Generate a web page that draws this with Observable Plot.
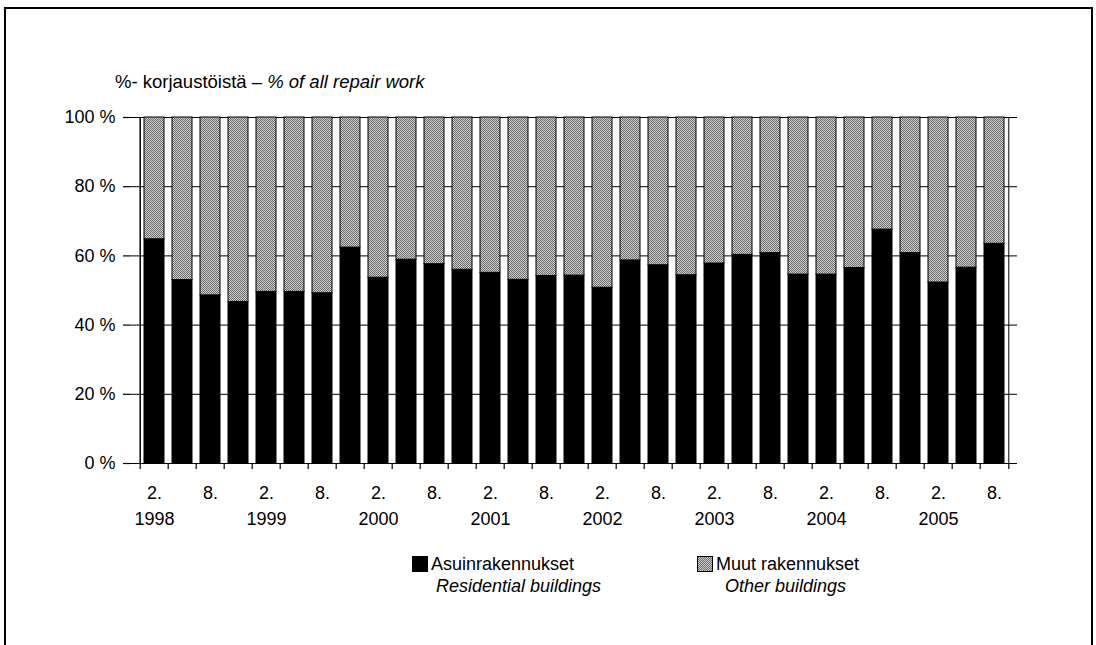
<!DOCTYPE html>
<html>
<head>
<meta charset="utf-8">
<script src="https://cdn.jsdelivr.net/npm/d3@7"></script>
<script src="https://cdn.jsdelivr.net/npm/@observablehq/plot@0.6"></script>
<style>
  html, body { margin: 0; padding: 0; background: #fff; }
  body { width: 1096px; height: 645px; overflow: hidden; position: relative; font-family: "Liberation Sans", Arial, sans-serif; color: #000; }
  #frame { position: absolute; left: 4px; top: 7px; width: 1089px; height: 700px; border: 2px solid #000; box-sizing: border-box; }
  #title { position: absolute; left: 115px; top: 72px; font-size: 18.5px; line-height: 20px; white-space: nowrap; }
  #chart { position: absolute; left: 0; top: 100px; }
  .leg { position: absolute; font-size: 18px; line-height: 22px; white-space: nowrap; }
  .leg .sw { position: absolute; left: 0; top: 3px; width: 16px; height: 16px; box-sizing: border-box; border: 1px solid #000; }
  .leg .l1 { position: absolute; left: 19px; top: 0; }
  .leg .l2 { position: absolute; left: 24px; top: 22px; font-style: italic; }
</style>
</head>
<body>
<div id="frame"></div>
<div id="title">%- korjaustöistä – <i>% of all repair work</i></div>
<div id="chart"></div>
<div class="leg" style="left:412px; top:553px;">
  <svg class="sw" width="16" height="16" style="background:#000"></svg>
  <span class="l1">Asuinrakennukset</span><span class="l2">Residential buildings</span>
</div>
<div class="leg" style="left:697px; top:553px;">
  <svg class="sw" width="16" height="16"><rect width="16" height="16" fill="url(#grayPat)"/></svg>
  <span class="l1">Muut rakennukset</span><span class="l2" style="left:28px">Other buildings</span>
</div>
<script>
// ---- data ----
const years = [1998, 1999, 2000, 2001, 2002, 2003, 2004, 2005];
const months = [2, 5, 8, 11];
const periods = years.flatMap(y => months.map(m => `${y}/${m}`)).slice(0, 31);
const seriesNames = ["Asuinrakennukset", "Muut rakennukset"];
const residential = [64.8, 53.0, 48.6, 46.7, 49.6, 49.6, 49.2, 62.4, 53.7, 58.9, 57.6, 56.0, 55.1, 53.1, 54.2, 54.3,
                     50.8, 58.7, 57.3, 54.4, 57.8, 60.3, 60.8, 54.6, 54.6, 56.5, 67.6, 60.8, 52.3, 56.6, 63.5];
const other = [35.2, 47.0, 51.4, 53.3, 50.4, 50.4, 50.8, 37.6, 46.3, 41.1, 42.4, 44.0, 44.9, 46.9, 45.8, 45.7,
               49.2, 41.3, 42.7, 45.6, 42.2, 39.7, 39.2, 45.4, 45.4, 43.5, 32.4, 39.2, 47.7, 43.4, 36.5];
const yTicks = [0, 20, 40, 60, 80, 100];
const gridTicks = [20, 40, 60, 80, 100];

const rows = [
  ...periods.map((p, i) => ({period: p, series: seriesNames[0], value: residential[i]})),
  ...periods.map((p, i) => ({period: p, series: seriesNames[1], value: other[i]}))
];

// ---- layout ----
const W = 1096, H = 440, ML = 130, MR = 79, MT = 17, MB = 77;
const step = (W - ML - MR) / periods.length;
const monthTicks = periods.filter((d, i) => i % 2 === 0);
const yearTicks = periods.filter((d, i) => i % 4 === 0);

const chart = Plot.plot({
  width: W, height: H,
  marginLeft: ML, marginRight: MR, marginTop: MT, marginBottom: MB,
  style: {fontFamily: '"Liberation Sans", Arial, sans-serif', fontSize: "18px", color: "#000", background: "transparent", overflow: "visible"},
  x: {type: "band", domain: periods, paddingInner: 0.3, paddingOuter: 0.15, axis: null, label: null},
  y: {domain: [0, 100], axis: null, label: null},
  color: {domain: seriesNames, range: ["#000", "url(#grayPat)"]},
  marks: [
    Plot.ruleY(gridTicks, {stroke: "#000", strokeWidth: 1}),
    Plot.barY(rows, {x: "period", y: "value", fill: "series", stroke: "#000", strokeWidth: 1, order: seriesNames}),
    Plot.ruleY([0], {stroke: "#000", strokeWidth: 1.2}),
    Plot.ruleX([periods[periods.length - 1]], {dx: step / 2, stroke: "#000", strokeWidth: 1}),
    Plot.ruleX([periods[0]], {dx: -step / 2, stroke: "#000", strokeWidth: 1.5}),
    Plot.axisY({ticks: yTicks, tickFormat: d => `${d} %`, tickSize: 7, tickPadding: 8, strokeWidth: 1.2, label: null}),
    Plot.axisX({ticks: periods, tickSize: 6, tickFormat: () => "", dx: -step / 2, strokeWidth: 1.2, label: null}),
    Plot.axisX({ticks: [periods[periods.length - 1]], tickSize: 6, tickFormat: () => "", dx: step / 2, strokeWidth: 1.2, label: null}),
    Plot.axisX({ticks: monthTicks, tickSize: 0, tickPadding: 23, tickFormat: d => d.split("/")[1] + ".", label: null}),
    Plot.axisX({ticks: yearTicks, tickSize: 0, tickPadding: 49, tickFormat: d => d.split("/")[0], label: null})
  ]
});

const defs = document.createElementNS("http://www.w3.org/2000/svg", "defs");
defs.innerHTML = `<pattern id="grayPat" patternUnits="userSpaceOnUse" width="2" height="2">
  <rect width="2" height="2" fill="#d0d0d0"/>
  <rect x="0" y="0" width="1" height="1" fill="#6a6a6a"/>
  <rect x="1" y="1" width="1" height="1" fill="#6a6a6a"/>
</pattern>`;
chart.insertBefore(defs, chart.firstChild);
document.getElementById("chart").appendChild(chart);
</script>
</body>
</html>
